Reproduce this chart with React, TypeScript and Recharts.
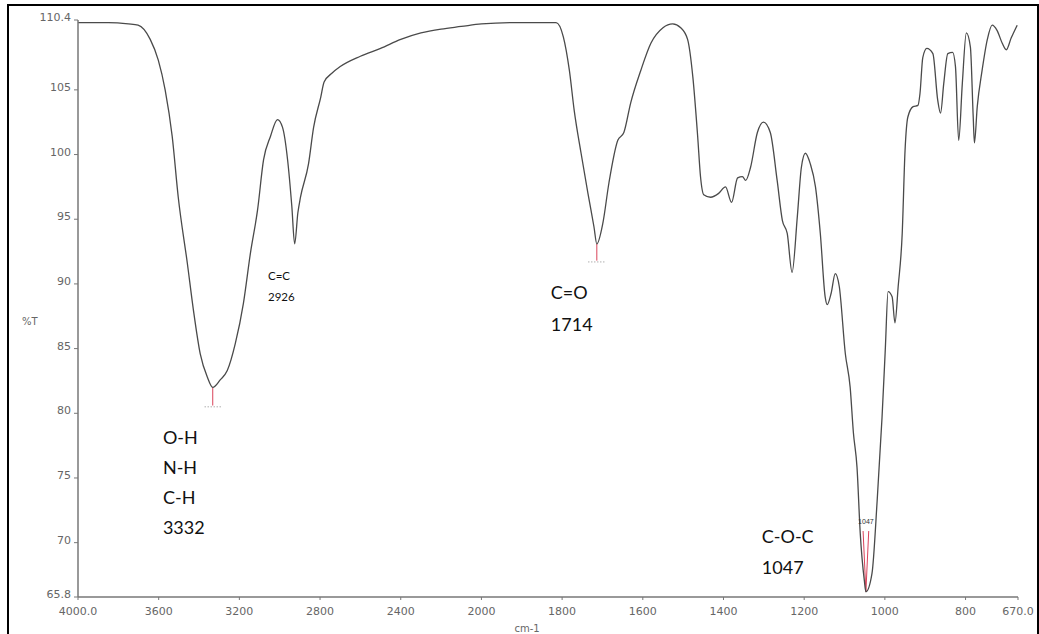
import {
  LineChart,
  Line,
  XAxis,
  YAxis,
  ReferenceLine,
  ReferenceDot,
  Label,
} from "recharts";

// wavenumber (cm-1) and %T
const WAVENUMBERS = [
  4000, 3850, 3750, 3702, 3642, 3602, 3568, 3533, 3503, 3458, 3428, 3394, 3359,
  3332, 3294, 3260, 3220, 3180, 3145, 3110, 3080, 3046, 3011, 2986, 2961, 2940,
  2926, 2910, 2897, 2857, 2832, 2797, 2780, 2740, 2700, 2600, 2500, 2400, 2300,
  2200, 2100, 2000, 1918, 1815, 1797, 1782, 1770, 1753, 1736, 1721, 1714, 1699,
  1684, 1662, 1647, 1630, 1605, 1580, 1550, 1526, 1506, 1489, 1476, 1464, 1457,
  1449, 1432, 1412, 1395, 1380, 1365, 1353, 1345, 1333, 1316, 1301, 1284, 1267,
  1254, 1242, 1230, 1217, 1207, 1197, 1185, 1172, 1160, 1148, 1143, 1133, 1123,
  1113, 1098, 1086, 1078, 1069, 1061, 1051, 1047, 1032, 1019, 1007, 999, 992,
  982, 975, 967, 957, 950, 943, 930, 918, 913, 906, 896, 881, 869, 862, 854, 844,
  832, 825, 817, 808, 798, 788, 781, 778, 771, 759, 746, 734, 722, 709, 699, 687,
  672,
];

const TRANSMITTANCE = [
  110.2, 110.2, 110.1, 110.0, 108.9, 107.3, 105.0, 101.4, 96.7, 91.6, 88.0,
  84.6, 82.8, 82.0, 82.6, 83.3, 85.4, 88.5, 92.4, 95.7, 99.6, 101.4, 102.7,
  102.1, 99.6, 96.0, 93.1, 95.5, 96.7, 99.3, 102.1, 104.4, 105.6, 106.3, 106.8,
  107.6, 108.2, 108.9, 109.4, 109.7, 109.9, 110.1, 110.2, 110.2, 109.1, 106.5,
  103.4, 100.1, 97.0, 94.4, 93.1, 94.7, 97.8, 101.1, 101.7, 104.0, 106.5, 108.6,
  109.8, 110.1, 109.8, 108.9, 106.0, 101.4, 98.3, 96.9, 96.7, 97.0, 97.5, 96.3,
  98.2, 98.3, 98.0, 99.0, 101.7, 102.5, 101.7, 98.0, 94.9, 93.9, 90.9, 95.2,
  99.0, 100.1, 99.3, 97.5, 93.9, 89.0, 88.4, 89.3, 90.8, 89.8, 84.6, 82.0, 78.5,
  75.8, 70.7, 67.1, 66.2, 67.6, 73.3, 79.7, 84.9, 89.4, 89.0, 87.0, 89.8, 93.9,
  100.3, 102.9, 103.7, 103.8, 104.7, 107.5, 108.2, 107.8, 104.2, 103.2, 105.5,
  107.8, 107.9, 106.8, 101.1, 105.5, 109.4, 108.3, 102.9, 100.9, 103.7, 106.5,
  108.9, 110.0, 109.6, 108.6, 108.1, 109.0, 110.0,
];

const X_TICKS = [4000, 3600, 3200, 2800, 2400, 2000, 1800, 1600, 1400, 1200, 1000, 800, 670];
const Y_TICKS = [65.8, 70, 75, 80, 85, 90, 95, 100, 105, 110.4];

const PEAKS = [3332, 1714, 1047];

// instrument plots 4000-2000 at half the density of 2000-670
const toAxis = (w: number) => (w >= 2000 ? (4000 - w) / 400 : 5 + (2000 - w) / 200);
const fromAxis = (u: number) => (u <= 5 ? 4000 - 400 * u : 2000 - 200 * (u - 5));

const rows = WAVENUMBERS.map((w, i) => ({ u: toAxis(w), t: TRANSMITTANCE[i] }));

const NOTES = [
  { w: 3579, t: 78.15, lines: ["O-H", "N-H", "C-H", "3332"], size: 18, gap: 30 },
  { w: 3058, t: 90.68, lines: ["C=C", "2926"], size: 11.5, gap: 21 },
  { w: 1828, t: 89.36, lines: ["C=O", "1714"], size: 18, gap: 32 },
  { w: 1305, t: 70.49, lines: ["C-O-C", "1047"], size: 18, gap: 31 },
];

const AXIS = "#777";
const TICK_TEXT = "#666";
const TICK_FONT = "DejaVu Sans, sans-serif";
const MARK = "#d9435a";

function NoteLabel(props: any) {
  const { viewBox, lines, size, gap } = props;
  const x = viewBox?.x ?? 0;
  const y = viewBox?.y ?? 0;
  return (
    <text fontFamily="Lato, sans-serif" fontSize={size} fill="#111" dominantBaseline="central">
      {lines.map((l: string, i: number) => (
        <tspan key={i} x={x} y={y + i * gap}>
          {l}
        </tspan>
      ))}
    </text>
  );
}

function XTick(props: any) {
  const { x, y, payload } = props;
  const w = Math.round(fromAxis(payload.value));
  const txt = w === 4000 || w === 670 ? w.toFixed(1) : String(w);
  return (
    <text x={x} y={y + 13} textAnchor="middle" fontFamily={TICK_FONT} fontSize={11} fill={TICK_TEXT}>
      {txt}
    </text>
  );
}

function YTick(props: any) {
  const { x, y, payload } = props;
  const v = payload.value;
  const txt = v === 65.8 || v === 110.4 ? String(v) : String(Math.round(v));
  return (
    <text x={x - 1} y={y + 1} textAnchor="end" fontFamily={TICK_FONT} fontSize={11} fill={TICK_TEXT}>
      {txt}
    </text>
  );
}

export default function App() {
  return (
    <div style={{ position: "fixed", left: 0, top: 0, width: 1039, height: 634, background: "#fff", overflow: "hidden" }}>
      <div
        style={{
          position: "absolute",
          left: 7,
          top: 4,
          width: 1032,
          height: 700,
          border: "2px solid #000",
          boxSizing: "border-box",
        }}
      />
      <LineChart
        width={1039}
        height={634}
        data={rows}
        margin={{ top: 20, right: 21, bottom: 0, left: 0 }}
        style={{ position: "absolute", left: 0, top: 0 }}
      >
        <XAxis
          dataKey="u"
          type="number"
          domain={[0, toAxis(670)]}
          ticks={X_TICKS.map(toAxis)}
          height={37}
          tick={<XTick />}
          tickSize={3}
          tickLine={{ stroke: AXIS }}
          axisLine={{ stroke: AXIS, strokeWidth: 1.5 }}
          interval={0}
        >
          <Label
            value="cm-1"
            position="insideBottom"
            offset={2}
            dx={-21}
            style={{ fontFamily: TICK_FONT, fontSize: 10, fill: TICK_TEXT }}
          />
        </XAxis>
        <YAxis
          type="number"
          domain={[65.8, 110.4]}
          ticks={Y_TICKS}
          width={78}
          tick={<YTick />}
          tickSize={4}
          tickLine={{ stroke: AXIS }}
          axisLine={{ stroke: AXIS, strokeWidth: 1.5 }}
          interval={0}
        >
          <Label
            value="%T"
            position="insideLeft"
            offset={22}
            dy={13}
            style={{ fontFamily: TICK_FONT, fontSize: 10, fill: TICK_TEXT, textAnchor: "start" }}
          />
        </YAxis>

        {/* peak pick markers */}
        <ReferenceLine segment={[{ x: toAxis(PEAKS[0]), y: 82.0 }, { x: toAxis(PEAKS[0]), y: 80.6 }]} stroke={MARK} />
        <ReferenceLine
          segment={[{ x: toAxis(3372), y: 80.5 }, { x: toAxis(3292), y: 80.5 }]}
          stroke="#888"
          strokeDasharray="1 2"
        />
        <ReferenceLine segment={[{ x: toAxis(PEAKS[1]), y: 93.1 }, { x: toAxis(PEAKS[1]), y: 91.8 }]} stroke={MARK} />
        <ReferenceLine
          segment={[{ x: toAxis(1735), y: 91.7 }, { x: toAxis(1695), y: 91.7 }]}
          stroke="#888"
          strokeDasharray="1 2"
        />
        <ReferenceLine segment={[{ x: toAxis(1054), y: 70.9 }, { x: toAxis(PEAKS[2]), y: 66.2 }]} stroke={MARK} />
        <ReferenceLine segment={[{ x: toAxis(1040), y: 70.9 }, { x: toAxis(PEAKS[2]), y: 66.2 }]} stroke={MARK} />
        <ReferenceDot
          x={toAxis(PEAKS[2])}
          y={71.65}
          r={0}
          fill="none"
          stroke="none"
          label={{ value: "1047", position: "center", fontSize: 7, fill: "#333", fontFamily: "Liberation Sans, sans-serif" }}
        />

        <Line
          dataKey="t"
          type="monotone"
          stroke="#4a4a4a"
          strokeWidth={1.3}
          dot={false}
          activeDot={false}
          isAnimationActive={false}
        />

        {NOTES.map((n) => (
          <ReferenceDot
            key={n.lines[0]}
            x={toAxis(n.w)}
            y={n.t}
            r={0}
            fill="none"
            stroke="none"
            label={<NoteLabel lines={n.lines} size={n.size} gap={n.gap} />}
          />
        ))}
      </LineChart>
    </div>
  );
}
